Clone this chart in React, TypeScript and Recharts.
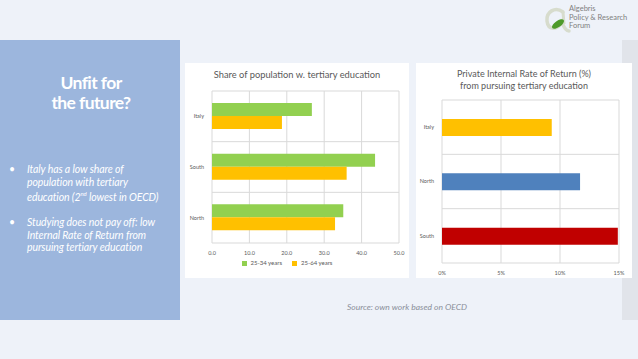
import React from "react";
import {
    BarChart,
    Bar,
    XAxis,
    YAxis,
    CartesianGrid,
    Legend,
    Cell,
} from "recharts";

// share of population with tertiary education (%)
const shareRegions = ["Italy", "South", "North"];
const young = [26.7, 43.6, 35.1]; // 25-34 years
const all = [18.7, 36.0, 32.9]; // 25-64 years
const shareTicks = [0, 10, 20, 30, 40, 50];

// private internal rate of return (%)
const irrRegions = ["Italy", "North", "South"];
const irrValues = [9.3, 11.7, 14.9];
const irrColors = ["#ffc000", "#4f81bd", "#c00000"];
const irrTicks = [0, 5, 10, 15];

const shareData = shareRegions.map((region, i) => ({
    region,
    young: young[i],
    all: all[i],
}));

const irrData = irrRegions.map((region, i) => ({
    region,
    irr: irrValues[i],
}));

const FONT = "Lato, 'Open Sans', sans-serif";
const GRID = "#d9d9d9";
const TEXT = "#595959";

// grid lines between categories rather than through them
const bandLines = (count: number) => (props: any) => {
    const { offset } = props;
    const lines: number[] = [];
    for (let i = 0; i <= count; i++) {
        lines.push(offset.top + (offset.height * i) / count);
    }
    return lines;
};

const SharePanel = () => (
    <div
        style={{
            position: "absolute",
            left: 185,
            top: 63,
            width: 224,
            height: 215,
            background: "#ffffff",
        }}
    >
        <div
            style={{
                position: "absolute",
                top: 6,
                width: "100%",
                textAlign: "center",
                fontSize: 9.3,
                color: TEXT,
                fontFamily: FONT,
            }}
        >
            Share of population w. tertiary education
        </div>
        <BarChart
            width={224}
            height={215}
            data={shareData}
            layout="vertical"
            margin={{ top: 28, right: 10, bottom: 0, left: 0 }}
            barGap={0}
        >
            <CartesianGrid
                stroke={GRID}
                horizontalCoordinatesGenerator={bandLines(shareRegions.length)}
            />
            <XAxis
                type="number"
                domain={[0, 50]}
                ticks={shareTicks}
                tickFormatter={(v: number) => v.toFixed(1)}
                axisLine={false}
                tickLine={false}
                height={16}
                tick={{ fontSize: 5.5, fill: TEXT, fontFamily: FONT }}
            />
            <YAxis
                type="category"
                dataKey="region"
                width={27}
                axisLine={false}
                tickLine={false}
                tick={{ fontSize: 5.5, fill: TEXT, fontFamily: FONT }}
            />
            <Legend
                verticalAlign="bottom"
                height={19}
                iconType="square"
                iconSize={5}
                wrapperStyle={{ fontSize: 6, fontFamily: FONT, color: TEXT }}
                formatter={(value: string) => (
                    <span style={{ color: TEXT }}>{value}</span>
                )}
            />
            <Bar
                dataKey="young"
                name="25-34 years"
                fill="#92d050"
                barSize={13}
                isAnimationActive={false}
            />
            <Bar
                dataKey="all"
                name="25-64 years"
                fill="#ffc000"
                barSize={13}
                isAnimationActive={false}
            />
        </BarChart>
    </div>
);

const IrrPanel = () => (
    <div
        style={{
            position: "absolute",
            left: 416,
            top: 63,
            width: 216,
            height: 215,
            background: "#ffffff",
        }}
    >
        <div
            style={{
                position: "absolute",
                top: 5,
                width: "100%",
                textAlign: "center",
                fontSize: 9,
                lineHeight: "11.5px",
                color: TEXT,
                fontFamily: FONT,
            }}
        >
            Private Internal Rate of Return (%)
            <br />
            from pursuing tertiary education
        </div>
        <BarChart
            width={216}
            height={215}
            data={irrData}
            layout="vertical"
            margin={{ top: 37, right: 13, bottom: 3, left: 0 }}
        >
            <CartesianGrid
                stroke={GRID}
                horizontalCoordinatesGenerator={bandLines(irrRegions.length)}
            />
            <XAxis
                type="number"
                domain={[0, 15]}
                ticks={irrTicks}
                tickFormatter={(v: number) => `${v}%`}
                axisLine={false}
                tickLine={false}
                height={12}
                tick={{ fontSize: 5.5, fill: TEXT, fontFamily: FONT }}
            />
            <YAxis
                type="category"
                dataKey="region"
                width={26}
                axisLine={false}
                tickLine={false}
                tick={{ fontSize: 5.5, fill: TEXT, fontFamily: FONT }}
            />
            <Bar dataKey="irr" barSize={17} isAnimationActive={false}>
                {irrData.map((d, i) => (
                    <Cell key={d.region} fill={irrColors[i]} />
                ))}
            </Bar>
        </BarChart>
    </div>
);

const bulletStyle: React.CSSProperties = {
    position: "relative",
    paddingLeft: 18,
    fontStyle: "italic",
    fontSize: 10.5,
    lineHeight: "12.5px",
    color: "#ffffff",
    marginBottom: 13,
    letterSpacing: -0.1,
};

const App = () => (
    <div
        style={{
            position: "absolute",
            left: 0,
            top: 0,
            width: 638,
            height: 359,
            background: "#eef2f9",
            overflow: "hidden",
            fontFamily: FONT,
        }}
    >
        {/* logo */}
        <svg
            style={{ position: "absolute", left: 543, top: 4 }}
            width={28}
            height={30}
        >
            <path
                d="M20 8 C 12 2, 3 8, 4 17 C 5 26, 14 27, 19 18 C 21 24, 23 27, 26 27"
                fill="none"
                stroke="#d7dccd"
                strokeWidth={3.5}
                strokeLinecap="round"
            />
            <path d="M20 8 L 21 20" stroke="#d7dccd" strokeWidth={3} />
            <ellipse
                cx={15}
                cy={20}
                rx={7}
                ry={3.2}
                fill="#4e9a2a"
                transform="rotate(-35 15 20)"
            />
        </svg>
        <div
            style={{
                position: "absolute",
                left: 569,
                top: 5,
                fontSize: 7.5,
                lineHeight: "8.5px",
                color: "#7f7f7f",
            }}
        >
            Algebris
            <br />
            Policy &amp; Research
            <br />
            Forum
        </div>

        {/* right grey strip */}
        <div
            style={{
                position: "absolute",
                left: 622,
                top: 40,
                width: 16,
                height: 280,
                background: "#e1e4ea",
            }}
        />

        {/* left panel */}
        <div
            style={{
                position: "absolute",
                left: 0,
                top: 40,
                width: 180,
                height: 280,
                background: "#9cb6dd",
            }}
        >
            <div
                style={{
                    position: "absolute",
                    top: 33,
                    width: 182,
                    textAlign: "center",
                    color: "#ffffff",
                    fontWeight: 700,
                    fontSize: 17.5,
                    lineHeight: "20px",
                    letterSpacing: -0.6,
                }}
            >
                Unfit for
                <br />
                the future?
            </div>
            <div style={{ position: "absolute", top: 123, left: 9, width: 170 }}>
                <div style={bulletStyle}>
                    <span style={{ position: "absolute", left: 0, fontStyle: "normal" }}>•</span>
                    Italy has a low share of
                    <br />
                    population with tertiary
                    <br />
                    education (2<sup style={{ fontSize: 6 }}>nd</sup> lowest in OECD)
                </div>
                <div style={bulletStyle}>
                    <span style={{ position: "absolute", left: 0, fontStyle: "normal" }}>•</span>
                    Studying does not pay off: low
                    <br />
                    Internal Rate of Return from
                    <br />
                    pursuing tertiary education
                </div>
            </div>
        </div>

        <SharePanel />
        <IrrPanel />

        <div
            style={{
                position: "absolute",
                left: 250,
                top: 302,
                width: 314,
                textAlign: "center",
                fontStyle: "italic",
                fontSize: 8.5,
                color: "#8a8f99",
            }}
        >
            Source: own work based on OECD
        </div>
    </div>
);

export default App;
